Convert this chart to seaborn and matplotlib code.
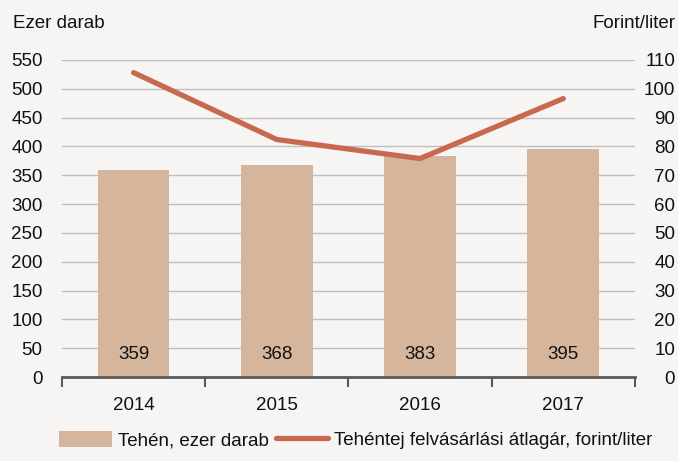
import matplotlib
matplotlib.use("Agg")
import matplotlib.pyplot as plt
from matplotlib import font_manager
from matplotlib.patches import Patch
from matplotlib.lines import Line2D
import seaborn as sns
import pandas as pd
import numpy as np

# data
years = ["2014", "2015", "2016", "2017"]
cows = [359, 368, 383, 395]            # ezer darab (left axis)
milk_price = [105.6, 82.4, 75.8, 96.6]  # forint/liter (right axis)

bar_label = "Tehén, ezer darab"
line_label = "Tehéntej felvásárlási átlagár, forint/liter"

BG = "#f6f5f3"
BAR = "#d5b69c"
LINE = "#c8694f"
GRID = "#bfbfbf"
AXIS = "#5a5a5a"

sns.set_theme(style="white")
names = {f.name for f in font_manager.fontManager.ttflist}
fam = [n for n in ["Liberation Sans Narrow", "Arial Narrow", "Liberation Sans"] if n in names]
plt.rcParams["font.family"] = fam + ["DejaVu Sans"]
plt.rcParams["text.color"] = "#111111"

fig = plt.figure(figsize=(6.78, 4.61), dpi=100, facecolor=BG)
ax = fig.add_axes([0.0914, 0.182, 0.845, 0.688])
ax.set_facecolor(BG)

df = pd.DataFrame({"year": years, "cows": cows, "price": milk_price})
sns.barplot(data=df, x="year", y="cows", color=BAR, width=0.5, saturation=1,
            linewidth=0, ax=ax, zorder=2)

ax.set_ylim(0, 550)
ax.set_yticks(np.arange(0, 551, 50))
ax.set_xlim(-0.5, len(years) - 0.5)
ax.grid(axis="y", color=GRID, linewidth=1, zorder=0)
ax.set_axisbelow(True)
for s in ["top", "right", "left"]:
    ax.spines[s].set_visible(False)
ax.spines["bottom"].set_color(AXIS)
ax.spines["bottom"].set_linewidth(2)
ax.spines["bottom"].set_zorder(5)
ax.set_xlabel("")
ax.set_ylabel("")
ax.tick_params(axis="y", length=0, pad=14, labelsize=13.5, labelcolor="#111111")
for t in ax.get_yticklabels():
    t.set_ha("right")
ax.tick_params(axis="x", which="major", length=0, pad=14, labelsize=13.5, labelcolor="#111111")
ax.set_xticks(np.arange(-0.5, len(years), 1.0), minor=True)
ax.tick_params(axis="x", which="minor", bottom=True, length=7, width=1.5,
               color=AXIS, direction="out")

for i, v in enumerate(cows):
    ax.annotate(str(v), xy=(i, 0), xytext=(0, 16), textcoords="offset points",
                ha="center", va="center", fontsize=13.5, zorder=6)

ax2 = ax.twinx()
sns.lineplot(x=np.arange(len(years)), y=milk_price, color=LINE, linewidth=3.8,
             ax=ax2, solid_capstyle="round", zorder=4)
ax2.set_ylim(0, 110)
ax2.set_yticks(np.arange(0, 111, 10))
ax2.set_xlim(-0.5, len(years) - 0.5)
for s in ["top", "right", "left", "bottom"]:
    ax2.spines[s].set_visible(False)
ax2.tick_params(axis="y", length=0, pad=29, labelsize=13.5, labelcolor="#111111")
for t in ax2.get_yticklabels():
    t.set_ha("right")
ax2.grid(False)
ax2.set_ylabel("")

fig.text(0.019, 0.948, "Ezer darab", ha="left", va="center", fontsize=13.5)
fig.text(0.996, 0.948, "Forint/liter", ha="right", va="center", fontsize=13.5)

handles = [Patch(facecolor=BAR, edgecolor="none"),
           Line2D([0], [0], color=LINE, linewidth=3.8)]
fig.legend(handles, [bar_label, line_label], loc="center", bbox_to_anchor=(0.525, 0.045),
           ncol=2, frameon=False, fontsize=13.5, handlelength=2.8, handleheight=0.9,
           columnspacing=0.4, handletextpad=0.3)

fig.savefig("out.png", dpi=100, facecolor=BG)
